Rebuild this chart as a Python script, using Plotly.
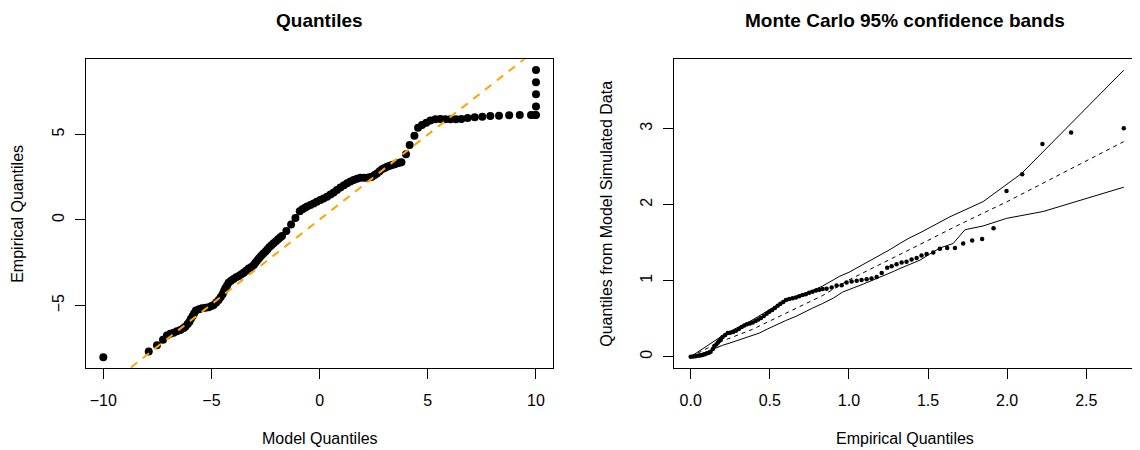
import plotly.graph_objects as go

# ---------------- Left panel: Quantiles ----------------
qq_model = [-10.0, -7.90, -7.52, -7.24, -7.06, -6.90, -6.75, -6.60, -6.44, -6.30, -6.21, -6.10,
            -6.02, -5.95, -5.87, -5.80, -5.72, -5.58, -5.44, -5.28, -5.13, -5.00, -4.90, -4.78,
            -4.67, -4.57, -4.48, -4.42, -4.36, -4.28, -4.21, -4.10, -3.98, -3.86, -3.74, -3.62,
            -3.51, -3.40, -3.28, -3.16, -3.05, -2.97, -2.89, -2.80, -2.71, -2.61, -2.51, -2.42,
            -2.33, -2.23, -2.13, -2.02, -1.92, -1.83, -1.74, -1.54, -1.32, -1.12, -0.92, -0.80,
            -0.68, -0.58, -0.43, -0.28, -0.13, 0.03, 0.18, 0.34, 0.50, 0.65, 0.80, 0.96,
            1.12, 1.27, 1.42, 1.57, 1.73, 1.88, 2.04, 2.19, 2.31, 2.42, 2.54, 2.65,
            2.77, 2.88, 3.00, 3.12, 3.24, 3.35, 3.47, 3.58, 3.68, 3.78, 3.99, 4.16,
            4.38, 4.55, 4.73, 4.93, 5.12, 5.35, 5.58, 5.81, 6.04, 6.30, 6.55, 6.84,
            7.17, 7.52, 7.89, 8.29, 8.76, 9.25, 9.77, 9.94, 10.0, 10.0, 10.0, 10.0, 10.0]
qq_empirical = [-8.02, -7.68, -7.31, -6.99, -6.74, -6.65, -6.58, -6.50, -6.42, -6.32, -6.23, -6.08,
                -5.94, -5.77, -5.60, -5.44, -5.29, -5.21, -5.16, -5.13, -5.10, -5.03, -4.96, -4.82,
                -4.67, -4.50, -4.32, -4.15, -3.99, -3.82, -3.66, -3.55, -3.44, -3.35, -3.27, -3.17,
                -3.08, -2.96, -2.84, -2.74, -2.63, -2.50, -2.37, -2.23, -2.10, -1.97, -1.85, -1.72,
                -1.60, -1.48, -1.36, -1.24, -1.13, -1.03, -0.93, -0.64, -0.27, 0.12, 0.51, 0.63,
                0.72, 0.78, 0.87, 0.96, 1.06, 1.16, 1.26, 1.36, 1.48, 1.61, 1.75, 1.89,
                2.02, 2.14, 2.24, 2.33, 2.41, 2.46, 2.47, 2.47, 2.49, 2.53, 2.62, 2.72,
                2.84, 2.96, 3.04, 3.11, 3.16, 3.21, 3.26, 3.31, 3.34, 3.37, 3.83, 4.38,
                4.92, 5.39, 5.55, 5.68, 5.80, 5.88, 5.90, 5.88, 5.88, 5.88, 5.90, 5.95,
                6.00, 6.03, 6.07, 6.09, 6.11, 6.13, 6.13, 6.13, 6.13, 6.62, 7.34, 8.04, 8.76]
qq_line_intercept = 0.03
qq_line_slope = 0.99
qq_line_x = [-12.0, 12.0]

left_xticks = [-10, -5, 0, 5, 10]
left_yticks = [-5, 0, 5]

# ---------------- Right panel: Monte Carlo bands ----------------
mc_emp = [0.000, 0.015, 0.030, 0.045, 0.060, 0.075, 0.090, 0.104, 0.115, 0.126, 0.140, 0.150,
          0.162, 0.172, 0.181, 0.192, 0.202, 0.218, 0.234, 0.250, 0.268, 0.286, 0.304, 0.322,
          0.339, 0.356, 0.374, 0.392, 0.410, 0.427, 0.444, 0.462, 0.480, 0.497, 0.515, 0.532,
          0.550, 0.567, 0.585, 0.602, 0.623, 0.644, 0.665, 0.686, 0.707, 0.728, 0.749, 0.770,
          0.792, 0.813, 0.834, 0.859, 0.891, 0.922, 0.954, 0.985, 1.017, 1.049, 1.080, 1.112,
          1.143, 1.175, 1.207, 1.242, 1.270, 1.301, 1.333, 1.364, 1.396, 1.428, 1.459, 1.491,
          1.533, 1.575, 1.621, 1.670, 1.722, 1.779, 1.842, 1.914, 1.996, 2.095, 2.223, 2.404, 2.737]
mc_sim = [0.000, 0.003, 0.006, 0.011, 0.016, 0.022, 0.032, 0.044, 0.052, 0.066, 0.100, 0.140,
          0.160, 0.185, 0.210, 0.235, 0.260, 0.285, 0.310, 0.315, 0.325, 0.340, 0.365, 0.390,
          0.410, 0.425, 0.435, 0.450, 0.470, 0.490, 0.510, 0.535, 0.565, 0.590, 0.615, 0.640,
          0.670, 0.695, 0.720, 0.745, 0.760, 0.770, 0.780, 0.795, 0.810, 0.820, 0.840, 0.855,
          0.870, 0.880, 0.890, 0.895, 0.910, 0.935, 0.940, 0.975, 0.990, 1.000, 1.010, 1.020,
          1.030, 1.050, 1.100, 1.170, 1.190, 1.215, 1.240, 1.250, 1.280, 1.300, 1.330, 1.350,
          1.370, 1.420, 1.430, 1.430, 1.490, 1.530, 1.550, 1.690, 2.180, 2.400, 2.800, 2.950, 3.005]

upper_x = [0.000, 0.050, 0.100, 0.150, 0.200, 0.265, 0.320, 0.370, 0.420, 0.476, 0.540, 0.602,
           0.660, 0.728, 0.780, 0.834, 0.890, 0.943, 1.000, 1.070, 1.130, 1.196, 1.260, 1.322,
           1.380, 1.449, 1.510, 1.575, 1.638, 1.848, 2.091, 2.737]
upper_y = [0.000, 0.070, 0.135, 0.205, 0.275, 0.350, 0.405, 0.460, 0.520, 0.590, 0.670, 0.750,
           0.790, 0.840, 0.880, 0.930, 1.000, 1.060, 1.110, 1.190, 1.260, 1.340, 1.410, 1.490,
           1.560, 1.630, 1.700, 1.770, 1.840, 2.040, 2.410, 3.770]

lower_x = [0.000, 0.050, 0.097, 0.150, 0.202, 0.255, 0.307, 0.370, 0.433, 0.486, 0.539, 0.600,
           0.665, 0.720, 0.771, 0.834, 0.901, 0.960, 1.027, 1.090, 1.154, 1.200, 1.238, 1.280,
           1.322, 1.385, 1.449, 1.510, 1.575, 1.659, 1.733, 1.848, 1.996, 2.227, 2.737]
lower_y = [0.000, 0.030, 0.060, 0.105, 0.150, 0.185, 0.220, 0.265, 0.310, 0.365, 0.420, 0.475,
           0.530, 0.590, 0.640, 0.700, 0.770, 0.850, 0.900, 0.955, 1.010, 1.050, 1.075, 1.120,
           1.160, 1.210, 1.270, 1.350, 1.430, 1.490, 1.670, 1.720, 1.820, 1.910, 2.230]

median_x = [0.000, 0.181, 0.391, 0.602, 0.834, 1.000, 1.196, 1.500, 1.680, 2.000, 2.737]
median_y = [0.000, 0.190, 0.360, 0.570, 0.805, 1.010, 1.210, 1.530, 1.720, 2.040, 2.830]

right_xticks = [0.0, 0.5, 1.0, 1.5, 2.0, 2.5]
right_xticklabels = ["0.0", "0.5", "1.0", "1.5", "2.0", "2.5"]
right_yticks = [0, 1, 2, 3]

# ---------------- Figure ----------------
# The page has an 8px body margin, so the figure is sized/offset to compensate.
OFF = 8
W, H = 1140 - OFF, 450 - OFF
FONT = "Liberation Sans, Arial, Helvetica, sans-serif"


def px_x(p):
    return (p - OFF) / W


def px_y(p):
    return 1 - (p - OFF) / H


fig = go.Figure()

fig.add_trace(go.Scatter(
    x=qq_model, y=qq_empirical, mode="markers",
    marker=dict(color="black", size=8, line=dict(width=0)),
    xaxis="x", yaxis="y", showlegend=False, hoverinfo="x+y"))

fig.add_trace(go.Scatter(
    x=qq_line_x, y=[qq_line_intercept + qq_line_slope * v for v in qq_line_x], mode="lines",
    line=dict(color="#FFA500", width=2, dash="8px,7px"),
    xaxis="x", yaxis="y", showlegend=False, hoverinfo="skip"))

fig.add_trace(go.Scatter(
    x=upper_x, y=upper_y, mode="lines", line=dict(color="black", width=1),
    xaxis="x2", yaxis="y2", showlegend=False, hoverinfo="skip"))
fig.add_trace(go.Scatter(
    x=lower_x, y=lower_y, mode="lines", line=dict(color="black", width=1),
    xaxis="x2", yaxis="y2", showlegend=False, hoverinfo="skip"))
fig.add_trace(go.Scatter(
    x=median_x, y=median_y, mode="lines", line=dict(color="black", width=1, dash="4px,4px"),
    xaxis="x2", yaxis="y2", showlegend=False, hoverinfo="skip"))
fig.add_trace(go.Scatter(
    x=mc_emp, y=mc_sim, mode="markers",
    marker=dict(color="black", size=4.5, line=dict(width=0)),
    xaxis="x2", yaxis="y2", showlegend=False, hoverinfo="x+y"))

axis_common = dict(
    showgrid=False, zeroline=False, showline=True, mirror=True,
    linecolor="black", linewidth=1, ticks="outside", ticklen=10,
    tickcolor="black", tickwidth=1,
    tickfont=dict(family=FONT, size=16, color="black"),
)

ydom = [px_y(368.3), px_y(59.3)]

fig.update_layout(
    width=W, height=H,
    margin=dict(l=0, r=0, t=0, b=0),
    paper_bgcolor="white", plot_bgcolor="white",
    xaxis=dict(domain=[px_x(86.0), px_x(553.3)], range=[-10.8, 10.8], anchor="y",
               tickmode="array", tickvals=left_xticks, ticklabelstandoff=7, **axis_common),
    yaxis=dict(domain=ydom, range=[-8.66, 9.38], anchor="x",
               tickmode="array", tickvals=left_yticks, tickangle=-90, ticklabelstandoff=5,
               **axis_common),
    xaxis2=dict(domain=[px_x(674.3), px_x(1135.0)], range=[-0.1036, 2.808], anchor="y2",
                tickmode="array", tickvals=right_xticks, ticktext=right_xticklabels,
                ticklabelstandoff=7, **axis_common),
    yaxis2=dict(domain=ydom, range=[-0.153, 3.913], anchor="x2",
                tickmode="array", tickvals=right_yticks, tickangle=-90, ticklabelstandoff=5,
                **axis_common),
)

texts = [
    ("Quantiles", 319.6, 20, 0, 19, "bold"),
    ("Monte Carlo 95% confidence bands", 904.7, 20, 0, 19, "bold"),
    ("Model Quantiles", 319.6, 438, 0, 16, "normal"),
    ("Empirical Quantiles", 904.7, 438, 0, 16, "normal"),
    ("Empirical Quantiles", 18, 213.8, -90, 16, "normal"),
    ("Quantiles from Model Simulated Data", 607, 213.8, -90, 16, "normal"),
]
for t, x, y, ang, size, weight in texts:
    fig.add_annotation(text=t, x=px_x(x), y=px_y(y), xref="paper", yref="paper",
                       xanchor="center", yanchor="middle", showarrow=False, textangle=ang,
                       font=dict(family=FONT, size=size, color="black", weight=weight))

fig.write_html("out.html")
